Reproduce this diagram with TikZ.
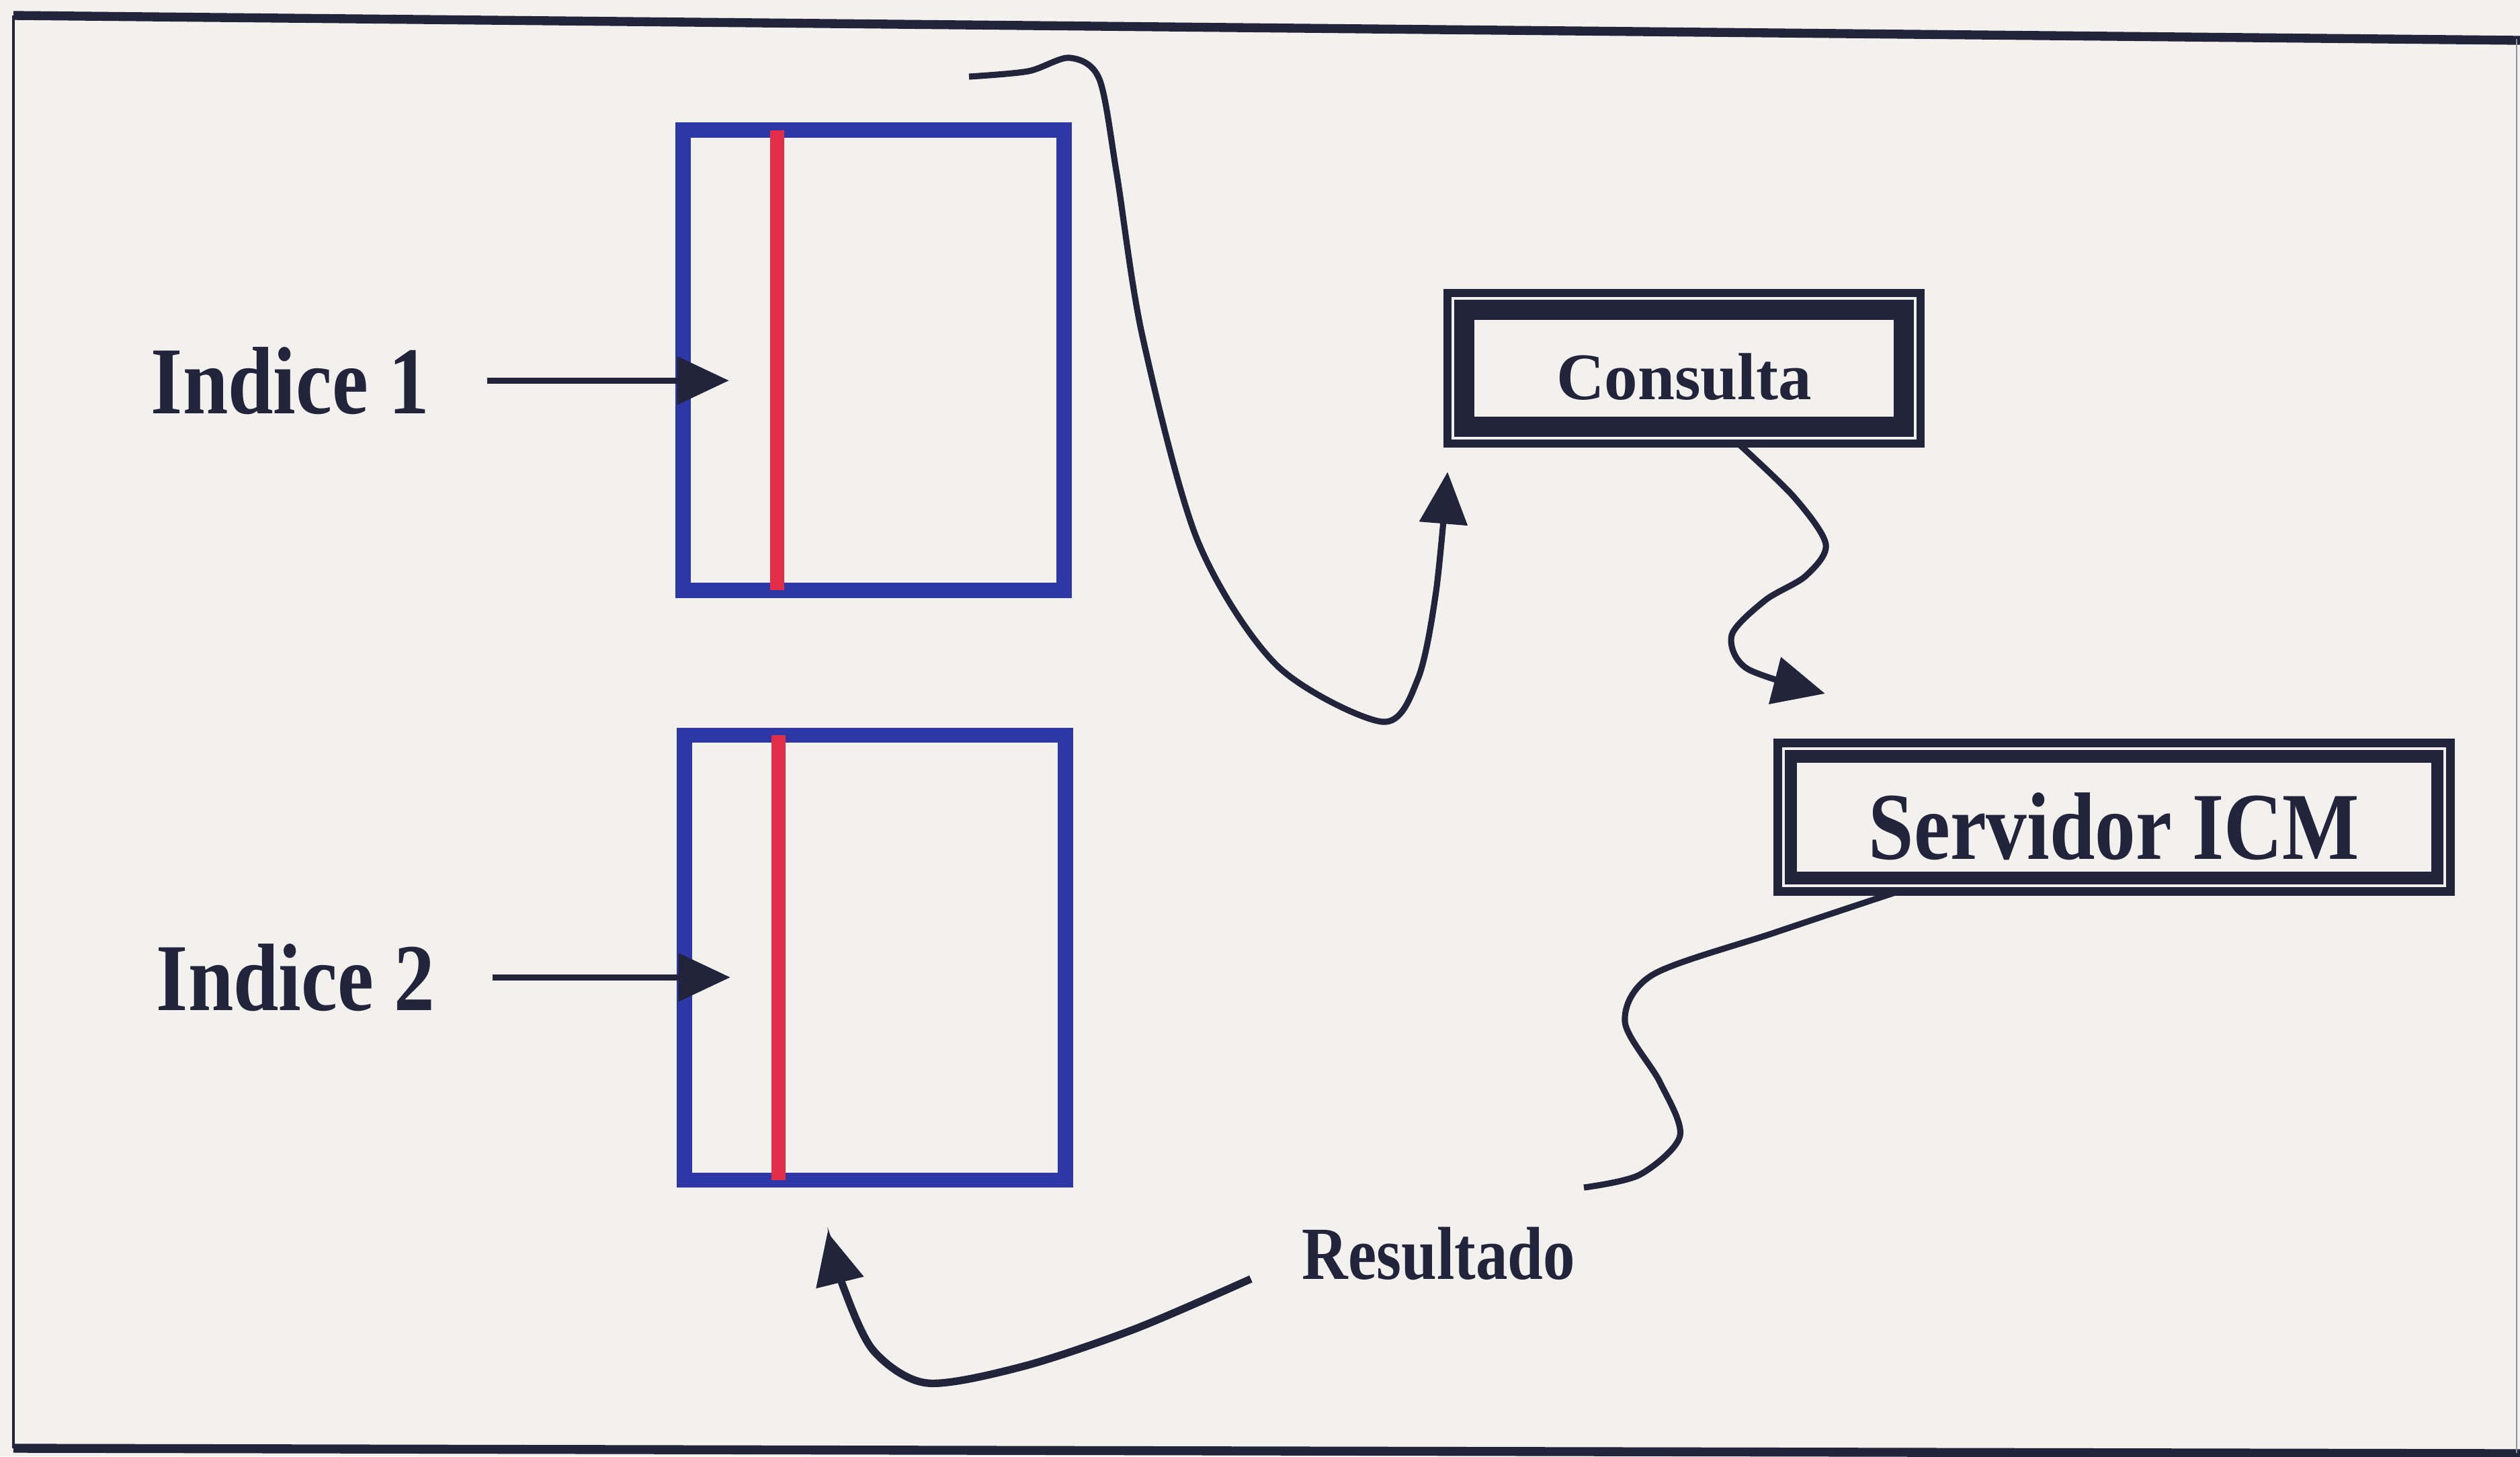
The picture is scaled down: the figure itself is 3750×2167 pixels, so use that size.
\documentclass[tikz,border=0pt]{standalone}
\usepackage{fontspec}
\setmainfont{Liberation Serif}[FakeStretch=0.85]
\newfontfamily\plainserif{Liberation Serif}
\usetikzlibrary{arrows.meta,calc}
\definecolor{paper}{RGB}{242,241,238}
\definecolor{ink}{RGB}{33,36,58}
\definecolor{idxblue}{RGB}{45,55,165}
\definecolor{idxred}{RGB}{226,46,72}
\tikzset{
  link/.style={ink, line width=1.3pt, -{Triangle[length=11pt,width=10pt]}},
  idxbox/.style={draw=idxblue, line width=3.2pt, minimum width=80.7pt, inner sep=0pt, outer sep=0pt},
  dbox/.style={draw=ink, line width=1.8pt, text=ink, inner sep=0pt, outer sep=0pt},
  tag/.style={text=ink, inner sep=0pt, anchor=base}
}
\begin{document}
\begin{tikzpicture}[x=0.005cm, y=-0.005cm]
  \useasboundingbox (0,0) rectangle (3750,2167);
  \fill[paper] (0,0) rectangle (3750,2167);
  \draw[ink, line width=1.9pt] (20,23) -- (3750,60);
  \draw[ink, line width=1.9pt] (20,2155) -- (3750,2163);
  \draw[ink, line width=0.5pt] (20,23) -- (20,2155);
  \draw[ink!50, line width=0.4pt] (3745,58) -- (3745,2162);

  \node[idxbox, minimum height=97.5pt] (idx1) at (1300,536) {};
  \node[idxbox, minimum height=94.3pt] (idx2) at (1302,1425) {};
  \foreach \b in {idx1,idx2}
    \draw[idxred, line width=3pt] ([xshift=19.9pt]\b.north west) -- ([xshift=19.9pt]\b.south west);

  \node[tag, font=\bfseries\fontsize{20.3}{24}\selectfont] (ind1) at (432,615) {Indice 1};
  \node[tag, font=\bfseries\fontsize{20.3}{24}\selectfont] (ind2) at (440,1503) {Indice 2};
  \node[tag, font=\bfseries\fontsize{15.9}{19}\selectfont] (res) at (2141,1903) {Resultado};

  \node[dbox, minimum width=100.2pt, minimum height=31.9pt, text height=13.4pt,
        font=\plainserif\bfseries\fontsize{14.1}{17}\selectfont] (cons) at (2506,548) {Consulta};
  \node[dbox, minimum width=142.5pt, minimum height=31.4pt, text height=18pt,
        font=\bfseries\fontsize{20.3}{24}\selectfont] (serv) at (3146,1216) {Servidor ICM};
  \draw[ink, line width=4.3pt] ([shift={(3.55pt,3.55pt)}]cons.south west) rectangle ([shift={(-3.55pt,-3.55pt)}]cons.north east);
  \draw[ink, line width=2.6pt] ([shift={(2.8pt,2.8pt)}]serv.south west) rectangle ([shift={(-2.8pt,-2.8pt)}]serv.north east);

  \draw[link] ([xshift=12pt]ind1.east) -- ($(ind1.east -| idx1.west)+(9.7pt,0)$);
  \draw[link] ([xshift=12pt]ind2.east) -- ($(ind2.east -| idx2.west)+(9.7pt,0)$);

  \coordinate (q0) at (1442,114);
  \coordinate (q1) at ([yshift=-6pt]cons.south west);
  \coordinate (c0) at ([xshift=11.5pt]cons.south);
  \coordinate (c1) at ([shift={(10pt,10.5pt)}]serv.north west);
  \coordinate (s0) at ([xshift=25.6pt]serv.south west);
  \coordinate (s1) at (2357,1767);
  \coordinate (r0) at ([xshift=-10.7pt]res.base west);
  \coordinate (r1) at ([shift={(30.3pt,-11pt)}]idx2.south west);

  \draw[link] plot[smooth] coordinates {(q0) (1530,106) (1592,86) (1636,118) (1662,260) (1700,500)
    (1782,804) (1900,990) (2057,1074) (2110,1010) (2137,880) (q1)};
  \draw[link] plot[smooth] coordinates {(c0) (2670,740) (2717,810) (2687,857) (2627,893)
    (2577,945) (2600,995) (c1)};
  \draw[ink, line width=1.3pt] plot[smooth] coordinates {(s0) (2640,1388) (2460,1450)
    (2418,1520) (2470,1610) (2500,1690) (2440,1748) (s1)};
  \draw[link, line width=1.6pt] plot[smooth] coordinates {(r0) (1690,1977) (1523,2033)
    (1380,2058) (1300,2010) (1255,1915) (r1)};
\end{tikzpicture}
\end{document}
